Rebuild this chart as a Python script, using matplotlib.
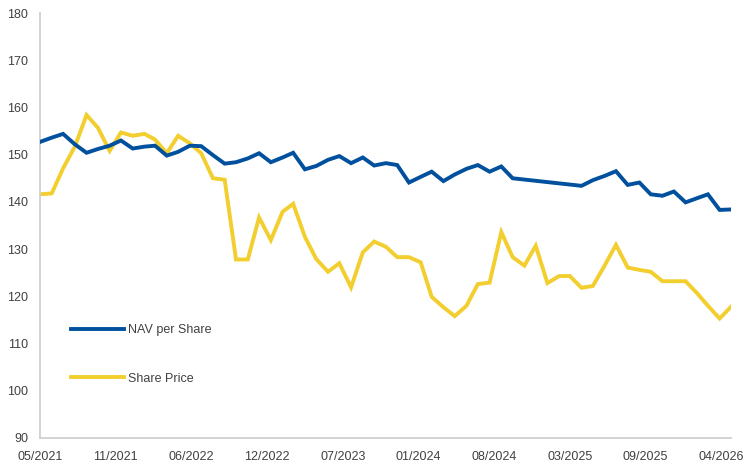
import numpy as np
import pandas as pd
import matplotlib
matplotlib.use('Agg')
import matplotlib.pyplot as plt
import matplotlib.dates as mdates

# monthly values
dates = pd.date_range('2021-05-01', '2026-05-01', freq='MS')
nav_per_share = [152.7, 153.6, 154.4, 152.2, 150.4, 151.2, 151.9, 153.0, 151.3, 151.7,
                 151.9, 149.8, 150.6, 151.9, 151.8, 149.9, 148.1, 148.4, 149.2, 150.3,
                 148.4, 149.4, 150.4, 146.9, 147.6, 148.9, 149.7, 148.2, 149.4, 147.7,
                 148.2, 147.8, 144.1, 145.3, 146.4, 144.4, 145.8, 147.0, 147.8, 146.4,
                 147.5, 145.0, np.nan, np.nan, np.nan, np.nan, np.nan, 143.4, 144.6, 145.5,
                 146.5, 143.6, 144.1, 141.6, 141.3, 142.2, 139.9, 140.8, 141.6, 138.3,
                 138.4]
share_price = [141.6, 141.8, 147.1, 151.7, 158.4, 155.7, 150.8, 154.7, 154.0, 154.4,
               153.2, 150.3, 154.0, 152.4, 150.3, 145.0, 144.7, 127.8, 127.8, 136.7,
               131.9, 137.9, 139.6, 132.6, 127.9, 125.2, 127.0, 121.9, 129.3, 131.6,
               130.5, 128.3, 128.3, 127.2, 119.9, 117.7, 115.8, 118.0, 122.6, 122.9,
               133.6, 128.3, 126.5, 130.7, 122.8, 124.3, 124.3, 121.8, 122.2, 126.5,
               130.9, 126.1, 125.6, 125.2, 123.2, 123.2, 123.2, 120.6, 118.0, 115.3,
               117.8]
# date axis with a major unit of 200 days, labels as mm/yyyy
tick_dates = pd.date_range('2021-05-01', periods=10, freq='200D')

NAV_COLOR = '#00509E'
PRICE_COLOR = '#F2CE2E'
TEXT_COLOR = '#404040'
AXIS_COLOR = '#D0D0D0'

plt.rcParams['font.family'] = ['Liberation Sans', 'DejaVu Sans']
plt.rcParams['font.size'] = 9

fig = plt.figure(figsize=(7.45, 4.66), dpi=100)
ax = fig.add_axes([40 / 745, 28 / 466, 691 / 745, 425 / 466])

nav = pd.Series(nav_per_share, index=dates).dropna()
# NAV has a few missing months: the line joins the available points
ax.plot(nav.index, nav.values, color=NAV_COLOR, lw=2.8, label='NAV per Share',
        solid_joinstyle='miter', zorder=3)
ax.plot(dates, share_price, color=PRICE_COLOR, lw=2.8, label='Share Price',
        solid_joinstyle='miter', zorder=2)

ax.set_xlim(dates[0], dates[-1])
ax.set_ylim(90, 180)
ax.set_yticks(np.arange(90, 181, 10))
ax.set_xticks(tick_dates)
ax.xaxis.set_major_formatter(mdates.DateFormatter('%m/%Y'))
ax.tick_params(axis='both', length=0, colors=TEXT_COLOR, labelsize=9)
ax.tick_params(axis='y', pad=8.5)
ax.tick_params(axis='x', pad=9)

for side in ['top', 'right']:
    ax.spines[side].set_visible(False)
for side in ['left', 'bottom']:
    ax.spines[side].set_color(AXIS_COLOR)
    ax.spines[side].set_linewidth(1.3)

leg = ax.legend(loc='center left', bbox_to_anchor=(0.0455, 0.1963), frameon=False,
                handlelength=4.2, handletextpad=0.32, labelspacing=2.9,
                borderpad=0, borderaxespad=0)
for t in leg.get_texts():
    t.set_color(TEXT_COLOR)

fig.savefig('out.png', dpi=100)
